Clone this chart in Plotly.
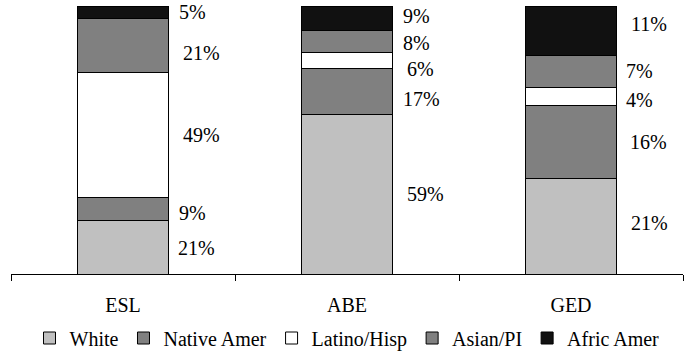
import plotly.graph_objects as go

# Enrollment mix by program, percentage of each program's learners
programs = ["ESL", "ABE", "GED"]
groups = ["White", "Native Amer", "Latino/Hisp", "Asian/PI", "Afric Amer"]
white = [21, 59, 21]
native_amer = [9, 17, 16]
latino_hisp = [49, 6, 4]
asian_pi = [21, 8, 7]
afric_amer = [5, 9, 11]

series = [white, native_amer, latino_hisp, asian_pi, afric_amer]
fills = ["#c0c0c0", "#808080", "#ffffff", "#808080", "#111111"]

FONT = "Liberation Serif"
FONT_SIZE = 20
BAR_WIDTH = 0.406

fig = go.Figure()
for name, vals, col in zip(groups, series, fills):
    fig.add_trace(go.Bar(
        x=programs, y=vals, name=name, width=BAR_WIDTH,
        marker=dict(color=col, line=dict(color="#000000", width=1)),
        hoverinfo="skip",
    ))

# Small manual nudges (px) for the value labels beside each segment:
# per program, per group -> (dx, dy)
nudges = {
    "ESL": [(8, -1), (9, -4), (13, 0), (13, -7), (9, 0)],
    "ABE": [(13, 0), (9, -8), (13, -9), (9, -2), (9, 2)],
    "GED": [(13, 3), (12, 0), (8, -3), (8, 1), (13, 7)],
}

for i, prog in enumerate(programs):
    vals = [s[i] for s in series]
    total = sum(vals)
    base = 0.0
    for g, v in enumerate(vals):
        mid = (base + v / 2) / total * 100
        base += v
        dx, dy = nudges[prog][g]
        fig.add_annotation(
            x=i + BAR_WIDTH / 2, y=mid, xref="x", yref="y",
            text=f"{v}%", showarrow=False, xanchor="left", yanchor="middle",
            xshift=dx, yshift=dy,
            font=dict(family=FONT, size=FONT_SIZE, color="#000000"),
        )

fig.update_layout(
    barmode="stack",
    barnorm="percent",
    width=690, height=351,
    margin=dict(l=11, r=7, t=6, b=77, autoexpand=False),
    paper_bgcolor="#ffffff",
    plot_bgcolor="#ffffff",
    font=dict(family=FONT, size=FONT_SIZE, color="#000000"),
    showlegend=True,
    legend=dict(
        orientation="h", x=0.5, xanchor="center",
        yref="container", y=0.037, yanchor="middle",
        font=dict(family=FONT, size=FONT_SIZE, color="#000000"),
        traceorder="normal", itemwidth=30, tracegroupgap=0,
        bgcolor="rgba(0,0,0,0)",
    ),
    xaxis=dict(
        type="category",
        range=[-0.5, 2.5],
        automargin=False,
        showline=True, linecolor="#000000", linewidth=1,
        ticks="outside", tickson="boundaries", ticklen=6,
        tickcolor="#000000", tickwidth=1,
        ticklabelstandoff=13,
        showgrid=False, zeroline=False,
        tickfont=dict(family=FONT, size=FONT_SIZE, color="#000000"),
    ),
    yaxis=dict(
        range=[0, 100], visible=False, showgrid=False, zeroline=False,
    ),
)

fig.write_html("out.html")
